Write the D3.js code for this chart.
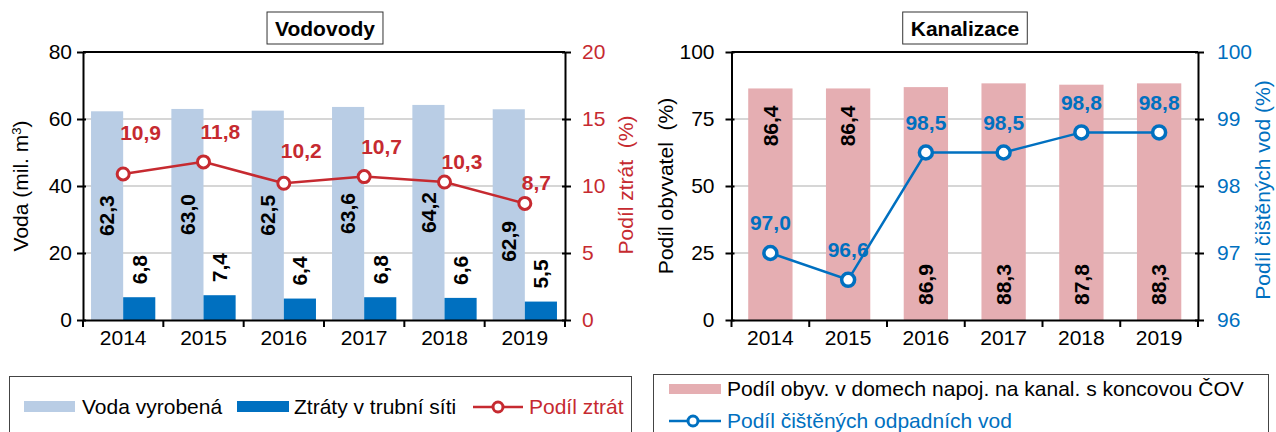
<!DOCTYPE html>
<html>
<head>
<meta charset="utf-8">
<script src="https://cdn.jsdelivr.net/npm/d3@7"></script>
<style>
body { margin: 0; background: #fff; }
svg text { font-family: "Liberation Sans", Arial, sans-serif; white-space: pre; }
</style>
</head>
<body>
<script>
// data
var years = ["2014", "2015", "2016", "2017", "2018", "2019"];
var vodaVyrobena = [62.3, 63.0, 62.5, 63.6, 64.2, 62.9];
var ztraty = [6.8, 7.4, 6.4, 6.8, 6.6, 5.5];
var podilZtrat = [10.9, 11.8, 10.2, 10.7, 10.3, 8.7];
var podilObyv = [86.4, 86.4, 86.9, 88.3, 87.8, 88.3];
var podilCist = [97.0, 96.6, 98.5, 98.5, 98.8, 98.8];

var vodaTicks = [0, 20, 40, 60, 80];
var ztratTicks = [0, 5, 10, 15, 20];
var obyvTicks = [0, 25, 50, 75, 100];
var cistTicks = [96, 97, 98, 99, 100];

// label nudges for the red line (dragged by hand in the original)
var lossLabelDy = [-41, -30, -33, -30, -20, -21];

var cLight = "#b9cde5", cDark = "#0070c0", cRed = "#c62a30", cPink = "#e5aeb2", cBlue = "#0070c0";
var fmt = function(v) { return d3.format(".1f")(v).replace(".", ","); };
var fs = "21px";

var width = 1276, height = 432;
var plotTop = 52, plotBottom = 320;

var svg = d3.select("body").append("svg")
    .attr("width", width)
    .attr("height", height);

function grid(g, vals, y, x0, x1) {
  g.append("g").selectAll("line")
    .data(vals.slice(1, -1))
    .enter().append("line")
      .attr("x1", x0).attr("x2", x1)
      .attr("y1", function(d) { return y(d); })
      .attr("y2", function(d) { return y(d); })
      .attr("stroke", "#c8c8c8")
      .attr("stroke-width", 1.5);
}

function styleAxis(g, color, inner) {
  g.select(".domain").attr("stroke", "#000").attr("stroke-width", 2);
  g.selectAll(".tick line").attr("stroke", "#000").attr("stroke-width", 2).attr("x1", inner);
  g.selectAll(".tick text").attr("fill", color).style("font-size", fs);
}

function xAxis(g, x) {
  var ax = g.append("g")
      .attr("transform", "translate(0," + plotBottom + ")")
      .call(d3.axisBottom(x).tickSize(0).tickSizeOuter(0).tickPadding(10));
  ax.select(".domain").attr("stroke", "#000").attr("stroke-width", 2);
  ax.selectAll(".tick text").attr("fill", "#000").style("font-size", fs);
  var r = x.range();
  g.append("g").selectAll("line")
    .data(d3.range(years.length + 1))
    .enter().append("line")
      .attr("x1", function(i) { return r[0] + i * x.step(); })
      .attr("x2", function(i) { return r[0] + i * x.step(); })
      .attr("y1", plotBottom).attr("y2", plotBottom + 7)
      .attr("stroke", "#000").attr("stroke-width", 2);
  g.append("line")
    .attr("x1", r[0]).attr("x2", r[1])
    .attr("y1", plotTop).attr("y2", plotTop)
    .attr("stroke", "#000").attr("stroke-width", 2);
}

function titleBox(g, cx, label) {
  var tb = g.append("g");
  var box = tb.append("rect");
  var t = tb.append("text")
      .attr("x", cx).attr("y", 36)
      .attr("text-anchor", "middle")
      .style("font-size", fs).style("font-weight", "bold")
      .text(label);
  var w = t.node().getComputedTextLength();
  box.attr("x", cx - w / 2 - 8).attr("y", 12)
      .attr("width", w + 16).attr("height", 32)
      .attr("fill", "#fff").attr("stroke", "#333").attr("stroke-width", 1);
}

function vTitle(g, x, y, color) {
  return g.append("text")
      .attr("transform", "translate(" + x + "," + y + ") rotate(-90)")
      .attr("text-anchor", "middle")
      .attr("dy", "0.35em")
      .attr("fill", color)
      .style("font-size", fs);
}

// ---------------- Vodovody ----------------
var gL = svg.append("g");
var xL = d3.scaleBand().domain(years).range([83, 565]);
var yL = d3.scaleLinear().domain([0, 80]).range([plotBottom, plotTop]);
var yLr = d3.scaleLinear().domain([0, 20]).range([plotBottom, plotTop]);
var bwL = xL.bandwidth();

grid(gL, vodaTicks, yL, 83, 565);

gL.append("g").selectAll("rect")
  .data(vodaVyrobena)
  .enter().append("rect")
    .attr("x", function(d, i) { return xL(years[i]) + bwL * 0.1; })
    .attr("width", bwL * 0.4)
    .attr("y", function(d) { return yL(d); })
    .attr("height", function(d) { return plotBottom - yL(d); })
    .attr("fill", cLight);

gL.append("g").selectAll("rect")
  .data(ztraty)
  .enter().append("rect")
    .attr("x", function(d, i) { return xL(years[i]) + bwL * 0.5; })
    .attr("width", bwL * 0.4)
    .attr("y", function(d) { return yL(d); })
    .attr("height", function(d) { return plotBottom - yL(d); })
    .attr("fill", cDark);

// bar labels
gL.append("g").selectAll("text")
  .data(vodaVyrobena)
  .enter().append("text")
    .attr("transform", function(d, i) {
      var cx = xL(years[i]) + bwL * 0.3;
      var cy = (yL(d) + plotBottom) / 2;
      var ly = yLr(podilZtrat[i]);
      if (Math.abs(cy - ly) < 25) cy = ly + 38;
      return "translate(" + cx + "," + cy + ") rotate(-90)";
    })
    .attr("text-anchor", "middle").attr("dy", "0.35em")
    .style("font-size", fs).style("font-weight", "bold")
    .text(fmt);

gL.append("g").selectAll("text")
  .data(ztraty)
  .enter().append("text")
    .attr("transform", function(d, i) {
      return "translate(" + (xL(years[i]) + bwL * 0.7) + "," + (yL(d) - 13) + ") rotate(-90)";
    })
    .attr("text-anchor", "start").attr("dy", "0.35em")
    .style("font-size", fs).style("font-weight", "bold")
    .text(fmt);

var lossLine = d3.line()
    .x(function(d, i) { return xL(years[i]) + bwL / 2; })
    .y(function(d) { return yLr(d); });

gL.append("path")
    .datum(podilZtrat)
    .attr("d", lossLine)
    .attr("fill", "none").attr("stroke", cRed).attr("stroke-width", 2.5);

gL.append("g").selectAll("circle")
  .data(podilZtrat)
  .enter().append("circle")
    .attr("cx", function(d, i) { return xL(years[i]) + bwL / 2; })
    .attr("cy", function(d) { return yLr(d); })
    .attr("r", 6)
    .attr("fill", "#fff").attr("stroke", cRed).attr("stroke-width", 3);

gL.append("g").selectAll("text")
  .data(podilZtrat)
  .enter().append("text")
    .attr("x", function(d, i) { return xL(years[i]) + bwL / 2 - 3; })
    .attr("y", function(d, i) { return yLr(d) + lossLabelDy[i]; })
    .attr("dy", "0.35em")
    .attr("fill", cRed)
    .style("font-size", fs).style("font-weight", "bold")
    .text(fmt);

var axL = gL.append("g").attr("transform", "translate(83,0)")
    .call(d3.axisLeft(yL).tickValues(vodaTicks).tickFormat(d3.format("d"))
      .tickSize(6).tickSizeOuter(0).tickPadding(5));
styleAxis(axL, "#000", 3);
var axLr = gL.append("g").attr("transform", "translate(565,0)")
    .call(d3.axisRight(yLr).tickValues(ztratTicks).tickFormat(d3.format("d"))
      .tickSize(6).tickSizeOuter(0).tickPadding(11));
styleAxis(axLr, cRed, -3);
xAxis(gL, xL);

var tV = vTitle(gL, 21, 186, "#000");
tV.append("tspan").text("Voda (mil. m");
tV.append("tspan").attr("baseline-shift", "super").style("font-size", "13px").text("3");
tV.append("tspan").text(")");
vTitle(gL, 626, 185, cRed).text("Podíl ztrát  (%)");

titleBox(gL, 325, "Vodovody");

// legend
var lgL = gL.append("g");
lgL.append("rect").attr("x", 9.5).attr("y", 376.5).attr("width", 622).attr("height", 70)
    .attr("fill", "none").attr("stroke", "#444").attr("stroke-width", 1);
lgL.append("rect").attr("x", 24).attr("y", 401).attr("width", 51).attr("height", 11).attr("fill", cLight);
lgL.append("text").attr("x", 82).attr("y", 414).style("font-size", fs).text("Voda vyrobená");
lgL.append("rect").attr("x", 237).attr("y", 401).attr("width", 52).attr("height", 11).attr("fill", cDark);
lgL.append("text").attr("x", 294).attr("y", 414).style("font-size", fs).text("Ztráty v trubní síti");
lgL.append("line").attr("x1", 473).attr("x2", 523).attr("y1", 407).attr("y2", 407)
    .attr("stroke", cRed).attr("stroke-width", 2.5);
lgL.append("circle").attr("cx", 498).attr("cy", 407).attr("r", 5)
    .attr("fill", "#fff").attr("stroke", cRed).attr("stroke-width", 3);
lgL.append("text").attr("x", 529).attr("y", 414).attr("fill", cRed).style("font-size", fs).text("Podíl ztrát");

// ---------------- Kanalizace ----------------
var gR = svg.append("g");
var xR = d3.scaleBand().domain(years).range([731.5, 1198]);
var yR = d3.scaleLinear().domain([0, 100]).range([plotBottom, plotTop]);
var yRr = d3.scaleLinear().domain([96, 100]).range([plotBottom, plotTop]);
var bwR = xR.bandwidth();
var pinkW = bwR * 0.57;

grid(gR, obyvTicks, yR, 731.5, 1198);

gR.append("g").selectAll("rect")
  .data(podilObyv)
  .enter().append("rect")
    .attr("x", function(d, i) { return xR(years[i]) + (bwR - pinkW) / 2; })
    .attr("width", pinkW)
    .attr("y", function(d) { return yR(d); })
    .attr("height", function(d) { return plotBottom - yR(d); })
    .attr("fill", cPink);

// label at top of the bar when the line point sits low, else at its base
gR.append("g").selectAll("text")
  .data(podilObyv)
  .enter().append("text")
    .attr("transform", function(d, i) {
      var cx = xR(years[i]) + bwR / 2;
      var ty = podilCist[i] < 98 ? yR(d) + 17 : plotBottom - 15;
      return "translate(" + cx + "," + ty + ") rotate(-90)";
    })
    .attr("text-anchor", function(d, i) { return podilCist[i] < 98 ? "end" : "start"; })
    .attr("dy", "0.35em")
    .style("font-size", fs).style("font-weight", "bold")
    .text(fmt);

var cistLine = d3.line()
    .x(function(d, i) { return xR(years[i]) + bwR / 2; })
    .y(function(d) { return yRr(d); });

gR.append("path")
    .datum(podilCist)
    .attr("d", cistLine)
    .attr("fill", "none").attr("stroke", cBlue).attr("stroke-width", 2.5);

gR.append("g").selectAll("circle")
  .data(podilCist)
  .enter().append("circle")
    .attr("cx", function(d, i) { return xR(years[i]) + bwR / 2; })
    .attr("cy", function(d) { return yRr(d); })
    .attr("r", 6.5)
    .attr("fill", "#fff").attr("stroke", cBlue).attr("stroke-width", 3.5);

gR.append("g").selectAll("text")
  .data(podilCist)
  .enter().append("text")
    .attr("x", function(d, i) { return xR(years[i]) + bwR / 2; })
    .attr("y", function(d) { return yRr(d) - 30; })
    .attr("dy", "0.35em")
    .attr("text-anchor", "middle")
    .attr("fill", cBlue)
    .style("font-size", fs).style("font-weight", "bold")
    .text(fmt);

var axR = gR.append("g").attr("transform", "translate(731.5,0)")
    .call(d3.axisLeft(yR).tickValues(obyvTicks).tickFormat(d3.format("d"))
      .tickSize(6).tickSizeOuter(0).tickPadding(11));
styleAxis(axR, "#000", 3);
var axRr = gR.append("g").attr("transform", "translate(1198,0)")
    .call(d3.axisRight(yRr).tickValues(cistTicks).tickFormat(d3.format("d"))
      .tickSize(6).tickSizeOuter(0).tickPadding(13));
styleAxis(axRr, cBlue, -3);
xAxis(gR, xR);

vTitle(gR, 666, 186, "#000").text("Podíl obyvatel  (%)");
vTitle(gR, 1263, 190, cBlue).text("Podíl čištěných vod (%)");

titleBox(gR, 965, "Kanalizace");

var lgR = gR.append("g");
lgR.append("rect").attr("x", 653.5).attr("y", 374.5).attr("width", 615).attr("height", 70)
    .attr("fill", "none").attr("stroke", "#444").attr("stroke-width", 1);
lgR.append("rect").attr("x", 669).attr("y", 384).attr("width", 52).attr("height", 10).attr("fill", cPink);
lgR.append("text").attr("x", 727).attr("y", 396).style("font-size", fs)
    .text("Podíl obyv. v domech napoj. na kanal. s koncovou ČOV");
lgR.append("line").attr("x1", 669).attr("x2", 721).attr("y1", 421).attr("y2", 421)
    .attr("stroke", cBlue).attr("stroke-width", 2.5);
lgR.append("circle").attr("cx", 693).attr("cy", 421).attr("r", 5)
    .attr("fill", "#fff").attr("stroke", cBlue).attr("stroke-width", 3);
lgR.append("text").attr("x", 727).attr("y", 428).attr("fill", cBlue).style("font-size", fs)
    .text("Podíl čištěných odpadních vod");
</script>
</body>
</html>
